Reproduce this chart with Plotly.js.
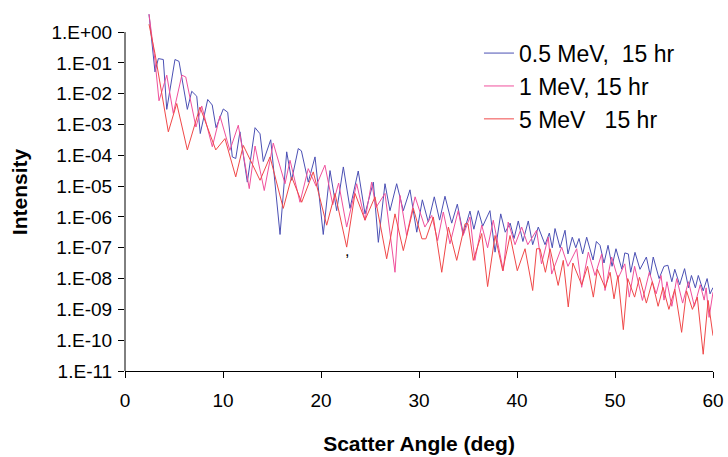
<!DOCTYPE html>
<html>
<head>
<meta charset="utf-8">
<script src="https://cdn.plot.ly/plotly-3.0.1.min.js"></script>
<style>html,body{margin:0;padding:0;background:#fff;}#chart{width:728px;height:457px;}</style>
</head>
<body>
<div id="chart"></div>
<script>
// Scatter angle (deg) and intensity for each series
const angle05 = [2.45,3.06,3.40,3.91,4.26,5.10,5.51,6.36,6.81,7.32,7.68,8.44,8.90,9.29,10.03,10.48,10.95,11.30,11.73,12.48,13.27,13.78,14.11,14.87,15.82,16.50,17.00,17.68,18.00,18.70,19.39,20.23,20.92,21.60,22.28,22.96,23.80,24.49,25.34,25.85,26.53,27.04,27.72,28.40,29.08,29.77,30.34,30.95,31.56,32.10,32.65,33.34,33.91,34.52,35.20,35.60,36.05,36.50,37.24,37.76,38.34,38.80,39.30,39.70,40.13,40.60,41.15,41.60,42.17,42.86,43.30,43.60,43.88,44.40,44.90,45.20,45.64,46.00,46.33,46.70,47.11,47.76,48.10,48.47,48.88,49.29,49.70,50.10,50.70,51.00,51.36,51.60,52.04,52.55,53.20,53.60,53.90,54.50,55.00,55.40,55.80,56.10,56.60,57.10,57.50,57.80,58.20,58.50,59.00,59.40,59.70,60.00];
const int05 = [3.8,0.051,0.138,0.129,3.1e-3,0.129,0.112,3.1e-3,1.2e-2,8.3e-3,5.1e-4,6.5e-3,4.3e-3,7.9e-4,3.2e-3,2.5e-3,8.9e-5,7.9e-5,5.8e-4,1.35e-5,7.9e-4,5.0e-4,6.3e-5,3.2e-4,2.7e-7,1.3e-4,1.55e-5,1.66e-4,1.4e-4,1.35e-5,8.9e-5,2.7e-7,3.2e-5,1.6e-6,4.2e-5,1.9e-6,3.1e-5,1.26e-6,1.35e-5,1.5e-7,1.2e-5,1.6e-6,1.2e-5,1.6e-6,7.6e-6,3.2e-7,3.6e-6,6.8e-7,4.5e-6,7.9e-7,4.7e-6,6.3e-7,2.6e-6,2.8e-7,1.55e-6,4.0e-7,1.6e-6,5.0e-7,1.6e-6,7.2e-8,1.26e-6,3.2e-7,6.3e-7,2.0e-7,7.4e-7,1.6e-7,7.4e-7,1.26e-7,4.7e-7,1.26e-7,3.0e-7,1.0e-7,4.2e-7,1.0e-7,3.7e-7,6.3e-8,2.2e-7,1.0e-7,2.0e-7,6.3e-8,2.2e-7,4.0e-8,1.6e-7,1.2e-7,3.2e-8,1.2e-7,2.5e-8,9.3e-8,2.0e-8,6.8e-8,6.3e-8,1.6e-8,7.1e-8,2.0e-8,5.0e-8,1.26e-8,5.0e-8,1.0e-8,2.5e-8,2.7e-8,7.9e-9,2.0e-8,6.3e-9,2.1e-8,5.0e-9,1.26e-8,5.0e-9,1.26e-8,4.0e-9,1.0e-8,3.2e-9,5.1e-9];

const angle1 = [2.45,3.06,3.47,4.26,4.93,5.80,6.20,7.24,7.83,8.91,9.69,10.70,11.56,12.68,13.27,14.21,15.13,16.33,16.84,17.86,18.70,19.50,20.40,21.20,21.80,22.62,23.64,24.49,25.17,25.60,26.53,27.55,28.06,28.74,29.60,30.60,31.30,31.90,32.48,33.16,34.00,34.50,35.20,35.70,36.40,37.00,37.58,38.60,39.10,39.80,40.48,41.10,42.00,42.50,43.19,43.54,44.56,45.20,46.09,46.60,47.28,47.96,48.64,48.98,49.66,50.30,51.00,51.46,52.00,52.80,53.50,54.20,54.70,55.00,55.30,55.80,56.30,56.90,57.50,58.10,58.70,59.10,59.30,59.60,60.00];
const int1 = [3.8,0.12,5.9e-3,4.0e-2,2.3e-3,4.0e-2,3.5e-2,8.3e-4,4.0e-3,1.9e-4,1.9e-3,1.45e-4,9.5e-4,8.3e-6,2.0e-4,7.2e-6,2.5e-4,1.2e-5,6.9e-5,3.0e-6,3.7e-5,1.0e-5,4.8e-5,2.5e-6,1.26e-5,4.7e-7,1.2e-5,7.8e-7,1.35e-5,2.0e-6,5.8e-6,1.6e-8,5.0e-6,2.5e-7,4.5e-6,4.7e-7,1.12e-6,1.7e-7,1.45e-6,1.35e-7,1.6e-6,2.5e-7,1.0e-6,3.9e-8,5.4e-7,1.0e-7,7.8e-7,1.8e-8,6.8e-7,1.26e-7,4.7e-7,1.26e-7,3.7e-7,3.0e-8,2.2e-7,1.4e-8,1.05e-7,2.5e-8,9.3e-8,5.2e-9,7.2e-8,1.26e-8,6.3e-8,4.1e-9,5.0e-8,1.0e-8,3.0e-8,2.5e-9,2.5e-8,1.95e-9,1.6e-8,3.2e-9,1.26e-8,2.0e-9,7.9e-9,1.26e-9,1.0e-8,1.6e-9,7.9e-9,1.26e-9,6.3e-9,2.0e-9,5.0e-9,5.5e-10,3.6e-9];

const angle5 = [2.45,3.06,4.42,5.28,6.36,7.65,9.26,10.20,11.30,12.07,13.78,14.80,16.15,17.00,18.03,19.21,20.58,21.43,22.62,23.47,24.49,25.51,26.70,27.55,28.40,29.42,30.30,30.70,31.46,32.32,33.00,33.85,34.70,35.00,35.54,36.40,37.00,37.76,38.54,39.29,40.03,40.82,41.60,42.00,42.35,42.90,43.37,44.20,44.72,45.23,45.70,46.60,47.20,47.79,48.20,49.00,49.50,49.90,50.30,50.85,51.30,52.00,52.50,53.20,53.80,54.40,54.90,55.50,56.10,56.80,57.30,57.90,58.40,59.00,59.50,60.00];
const int5 = [1.8,0.2,5.8e-4,4.8e-3,1.5e-4,3.7e-3,1.5e-4,3.5e-4,2.0e-5,2.1e-4,1.55e-5,8.9e-5,1.9e-6,2.0e-5,3.0e-6,2.9e-5,5.4e-7,5.8e-6,1.05e-7,5.8e-6,7.9e-7,4.5e-6,4.4e-8,1.26e-6,8.1e-8,1.9e-6,1.95e-7,1.95e-7,1.0e-6,1.6e-8,4.7e-7,3.9e-8,6.0e-7,6.0e-7,3.9e-8,2.9e-7,5.5e-9,2.5e-7,1.8e-8,2.5e-7,1.8e-8,9.3e-8,4.1e-9,9.3e-8,9.3e-8,1.6e-8,9.3e-8,6.0e-9,3.9e-8,1.2e-9,3.2e-8,6.3e-9,2.5e-8,2.5e-9,2.0e-8,5.0e-9,1.6e-8,2.2e-9,1.26e-8,2.2e-10,1.0e-8,2.5e-9,1.1e-8,1.6e-9,7.9e-9,1.26e-9,5.2e-9,1.0e-9,4.5e-9,1.8e-10,4.0e-9,1.0e-9,2.5e-9,3.5e-11,1.95e-9,1.4e-10];

const seriesNames = ['0.5 MeV,\u00a0 15 hr', '1 MeV, 15 hr', '5 MeV\u00a0\u00a0 15 hr'];
const yTickVals = [1e0,1e-1,1e-2,1e-3,1e-4,1e-5,1e-6,1e-7,1e-8,1e-9,1e-10,1e-11];
const yTickText = ['1.E+00','1.E-01','1.E-02','1.E-03','1.E-04','1.E-05','1.E-06','1.E-07','1.E-08','1.E-09','1.E-10','1.E-11'];
const xTickVals = [0,10,20,30,40,50,60];

const FONT = 'Liberation Sans, Arial, Helvetica, sans-serif';

const traces = [
  {x: angle05, y: int05, name: seriesNames[0], line: {color: '#4b50b4', width: 1}},
  {x: angle1, y: int1, name: seriesNames[1], line: {color: '#f0509c', width: 1}},
  {x: angle5, y: int5, name: seriesNames[2], line: {color: '#f04848', width: 1}}
].map(t => Object.assign({type: 'scatter', mode: 'lines', hoverinfo: 'x+y'}, t));

const layout = {
  width: 728, height: 457,
  margin: {l: 125, r: 15, t: 13, b: 86},
  paper_bgcolor: '#ffffff', plot_bgcolor: '#ffffff',
  font: {family: FONT, color: '#000', size: 19},
  showlegend: true,
  legend: {x: 0.602, y: 0.948, xanchor: 'left', yanchor: 'top', bgcolor: 'rgba(0,0,0,0)',
           font: {family: FONT, size: 23, color: '#000'}},
  xaxis: {range: [0, 60], tickvals: xTickVals, ticks: 'outside', ticklen: 6, tickcolor: '#000',
          showline: true, linecolor: '#000', linewidth: 1, showgrid: false, zeroline: false,
          tickfont: {family: FONT, size: 19}, ticklabelstandoff: 6,
          title: {text: '<b>Scatter Angle (deg)</b>', font: {family: FONT, size: 21}, standoff: 26}},
  yaxis: {type: 'log', range: [-11, 0.62], tickvals: yTickVals, ticktext: yTickText,
          ticks: 'outside', ticklen: 6, tickcolor: '#000', showline: false, showgrid: false, zeroline: false,
          tickfont: {family: FONT, size: 19}, ticklabelstandoff: 2,
          title: {text: '<b>Intensity</b>', font: {family: FONT, size: 21}, standoff: 18}},
  shapes: [{type: 'line', xref: 'paper', yref: 'y', x0: 0, x1: 0, y0: 1e-11, y1: 1e0,
            line: {color: '#000', width: 1}}],
  annotations: [{x: 22.65, y: -7.1, xref: 'x', yref: 'y', text: ',', showarrow: false,
                 font: {family: FONT, size: 16, color: '#000'}}]
};

Plotly.newPlot('chart', traces, layout, {displayModeBar: false, staticPlot: true});
</script>
</body>
</html>
